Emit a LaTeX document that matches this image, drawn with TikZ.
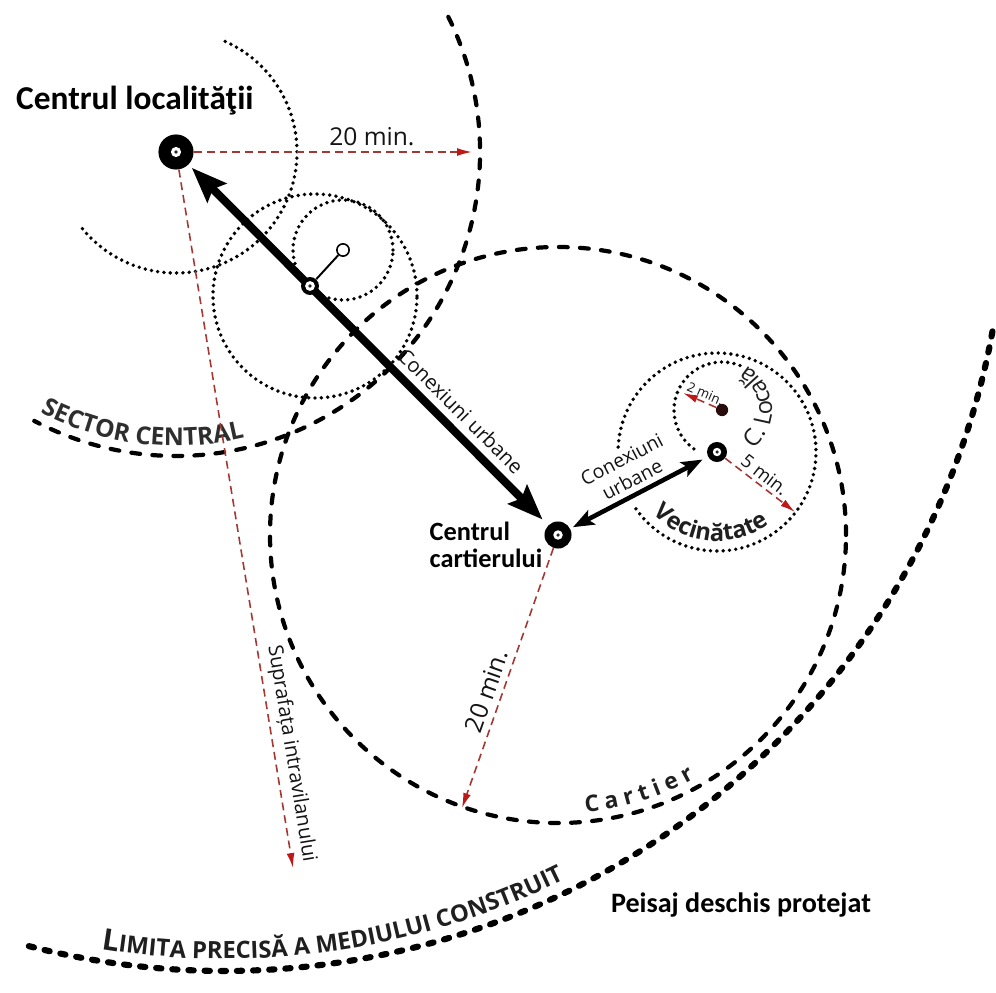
\documentclass[tikz,border=0pt]{standalone}
\usepackage{fontspec}
\setmainfont{Open Sans}
\newfontfamily\calfont{Carlito}
\usetikzlibrary{arrows.meta,decorations.text}
\definecolor{redline}{RGB}{165,55,50}
\definecolor{redtip}{RGB}{190,25,25}
\definecolor{locdot}{RGB}{40,12,12}
\newcommand\fsz[2]{\fontsize{#1}{#2}\selectfont}
\begin{document}
\begin{tikzpicture}[x=0.02cm,y=0.02cm,
 bigdash/.style={line width=2.4pt,dash pattern=on 5pt off 7pt,line cap=round},
 limdash/.style={line width=3.5pt,dash pattern=on 3pt off 6.2pt,line cap=round},
 dotc/.style={line width=2.2pt,dash pattern=on 0pt off 3.6pt,line cap=round},
 redarr/.style={draw=redline,line width=0.9pt,dash pattern=on 4.5pt off 2.8pt,-{Latex[length=8.5pt,width=4.5pt,color=redtip]}},
 ring/.style 2 args={circle,fill=black,inner sep=0pt,minimum size=#1,path picture={\fill[white] (path picture bounding box.center) circle[radius=#2];\fill[black!85] (path picture bounding box.center) circle[radius=1pt];}},
 bigarrow/.style={line width=4.6pt,{Stealth[length=20pt,width=15pt,inset=3pt]}-{Stealth[length=20pt,width=15pt,inset=3pt]}},
 medarrow/.style={line width=2.6pt,{Stealth[length=12pt,width=9pt,inset=2.5pt]}-{Stealth[length=12pt,width=9pt,inset=2.5pt]}},
 lbl/.style={text=black!92}
]
\useasboundingbox (0,0) rectangle (996,992);
\fill[white] (0,0) rectangle (996,992);

% centres
\coordinate (cl) at (176,840);
\coordinate (cc) at (558,457);
\coordinate (vc) at (717,540);
\coordinate (lc) at (722,582);
\coordinate (lim) at (224.4,802);

% dotted circles
\draw[dotc] (cl) ++(66:121) arc[start angle=66,end angle=-141,radius=121];
\draw[dotc] (315,696) circle[radius=102];
\draw[dotc] (343,742) circle[radius=50];
\draw[dotc] (vc) ++(-145:99) arc[start angle=-145,end angle=178,radius=99];
\draw[dotc] (lc) ++(68:48) arc[start angle=68,end angle=235,radius=48];

% dashed boundaries
\draw[bigdash] (cl) ++(26.4:304) arc[start angle=26.4,end angle=-117.8,radius=304];
\draw[bigdash] (cc) circle[radius=288];
\draw[limdash] (lim) ++(-104.5:781) arc[start angle=-104.5,end angle=-9.8,radius=781];

% curved texts
\path[decorate,decoration={text along path,text align=center,text color=black!82,
  text={|\bfseries\fsz{14}{16}|SECTOR CENTRAL}}]
  (cl) ++(-136:294) arc[start angle=-136,end angle=-58,radius=294];
\path[decorate,decoration={text along path,text align=center,text color=black!88,
  text={|\bfseries\fsz{13}{15}|C a r t i e r}}]
  (cc) ++(-100:279) arc[start angle=-100,end angle=-45,radius=279];
\path[decorate,decoration={text along path,text align=center,text color=black!88,
  text={|\bfseries\fsz{17}{19}|L|\bfseries\fsz{13.5}{16}|IMITA PRECISĂ A MEDIULUI CONSTRUIT}}]
  (lim) ++(-111.5:769) arc[start angle=-111.5,end angle=-51.5,radius=769];
\path[decorate,decoration={text along path,text align=center,text color=black!88,
  text={|\bfseries\fsz{13.5}{15}|Vecinătate}}]
  (vc) ++(-157:89) arc[start angle=-157,end angle=-33,radius=89];
\path[decorate,decoration={text along path,text align=center,text color=black!88,
  text={|\fsz{13.5}{15}|C. Locală}}]
  (lc) ++(-90:50) arc[start angle=-90,end angle=100,radius=50];

% nodes
\node[ring={20pt}{2.9pt}] (CL) at (cl) {};
\node[ring={15.4pt}{2.7pt}] (CC) at (cc) {};
\node[ring={11.4pt}{2.4pt}] (V) at (vc) {};
\node[circle,fill=locdot,inner sep=0pt,minimum size=7pt] (L) at (lc) {};
\node[circle,draw,line width=0.9pt,fill=white,inner sep=0pt,minimum size=7pt,
  path picture={\fill (path picture bounding box.center) circle[radius=0.9pt];}] (T) at (343,742) {};

% free ends
\coordinate (e20) at (472,840);
\coordinate (eSup) at (293,124);
\coordinate (e20b) at (462,184);
\coordinate (e2) at (683,599);
\coordinate (e5) at (795,480);

% red distance arrows
\draw[redarr] (CL) -- node[lbl,above,pos=0.64,font={\fsz{14}{16}}] (t20a) {20 min.} (e20);
\draw[redarr] (CL) -- node[lbl,sloped,above,pos=0.84,font={\fsz{11.5}{13}}] (tSup) {Suprafața intravilanului} (eSup);
\draw[redarr] (CC) -- node[lbl,sloped,above,pos=0.57,font={\fsz{14}{16}}] (t20b) {20 min.} (e20b);
\draw[redarr] (L) -- node[lbl,sloped,above,pos=0.42,inner sep=1.5pt,font={\fsz{7.5}{9}}] (t2) {2 min.} (e2);
\draw[redarr] (V) -- node[lbl,sloped,above,pos=0.47,inner sep=2pt,font={\fsz{10.5}{12}}] (t5) {5 min.} (e5);

% black connections
\draw[bigarrow,shorten <=2.5pt,shorten >=4.5pt] (CL) -- node[lbl,sloped,above,pos=0.72,inner sep=4pt,font={\fsz{11.5}{13}}] (tConA) {Conexiuni urbane} (CC);
\draw[medarrow,shorten <=1.7pt,shorten >=3.4pt] (CC) -- node[lbl,sloped,above,pos=0.5,inner sep=3pt,align=center,font={\fsz{11}{13}}] (tConB) {Conexiuni\\urbane} (V);

\node[ring={10.2pt}{2.8pt}] (S) at (310,706) {};
\draw[line width=1.1pt] (S) -- (T);

% labels
\node[anchor=base west,font={\calfont\bfseries\fsz{19}{22}}] (tCL) at (10,882) {Centrul localităţii};
\node[align=left,font={\calfont\bfseries\fsz{15}{15.5}}] (tCC) at (486,447) {Centrul\\cartierului};
\node[font={\calfont\bfseries\fsz{16}{18}}] (tP) at (741,87) {Peisaj deschis protejat};
\end{tikzpicture}
\end{document}
